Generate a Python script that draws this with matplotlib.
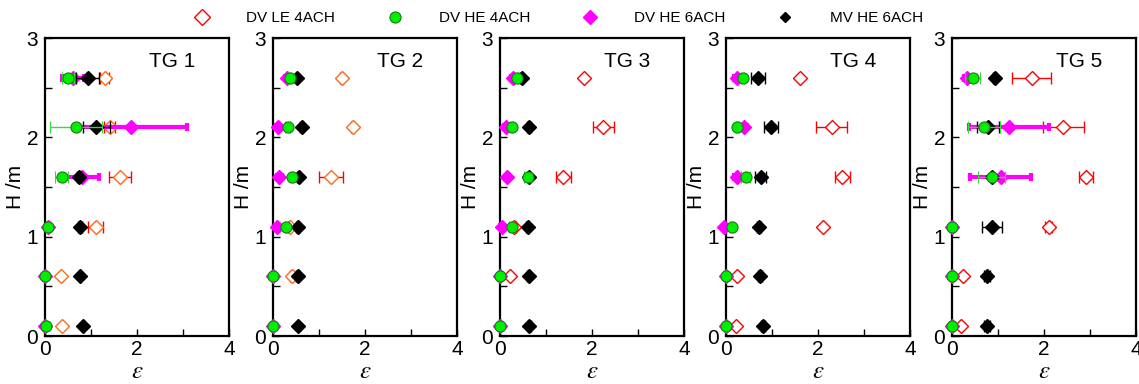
import numpy as np
import matplotlib.pyplot as plt
from matplotlib.lines import Line2D

plt.rcParams['font.family'] = ['Liberation Sans', 'DejaVu Sans']
plt.rcParams['mathtext.fontset'] = 'stix'

# heights (m), bottom to top
heights = [0.1, 0.6, 1.1, 1.6, 2.1, 2.6]
panels = ['TG 1', 'TG 2', 'TG 3', 'TG 4', 'TG 5']
nan = np.nan

# DV LE 4ACH
le4 = [[0.36, 0.34, 1.10, 1.63, 1.41, 1.30],
       [nan, 0.41, 0.36, 1.26, 1.73, 1.49],
       [nan, 0.22, 0.30, 1.38, 2.25, 1.82],
       [0.21, 0.23, 2.10, 2.53, 2.30, 1.62],
       [0.20, 0.23, 2.10, 2.92, 2.42, 1.73]]
le4_err = [[0, 0, 0.17, 0.23, 0.12, 0.10],
           [0, 0.03, 0.03, 0.27, 0.03, 0.03],
           [0, 0, 0.05, 0.17, 0.22, 0],
           [0, 0, 0, 0.16, 0.34, 0],
           [0, 0, 0.08, 0.15, 0.45, 0.42]]

# DV HE 4ACH
he4 = [[0.02, 0.00, 0.07, 0.36, 0.67, 0.51],
       [0.01, 0.01, 0.29, 0.41, 0.32, 0.36],
       [-0.01, 0.01, 0.25, 0.60, 0.25, 0.36],
       [-0.01, -0.01, 0.12, 0.43, 0.25, 0.36],
       [0.00, 0.00, 0.01, 0.86, 0.69, 0.45]]
he4_err = [[0, 0, 0.03, 0.15, 0.56, 0.13],
           [0, 0, 0.03, 0.03, 0.05, 0.03],
           [0, 0, 0.05, 0.08, 0.03, 0.03],
           [0, 0, 0.03, 0.10, 0.03, 0.03],
           [0, 0, 0, 0.30, 0.35, 0.16]]

# DV HE 6ACH
he6 = [[0.00, 0.00, 0.07, 0.80, 1.88, 0.60],
       [0.00, 0.00, 0.09, 0.14, 0.11, 0.30],
       [0.00, -0.01, 0.05, 0.16, 0.13, 0.28],
       [0.00, 0.00, -0.04, 0.23, 0.39, 0.23],
       [0.00, 0.00, 0.00, 1.06, 1.23, 0.33]]
he6_err = [[0, 0, 0.05, 0.37, 1.20, 0.24],
           [0, 0, 0.05, 0.05, 0.05, 0.05],
           [0, 0, 0.04, 0.04, 0.04, 0.05],
           [0, 0, 0.03, 0.06, 0.06, 0.06],
           [0, 0, 0, 0.66, 0.87, 0.06]]

# MV HE 6ACH
mv6 = [[0.83, 0.76, 0.76, 0.74, 1.12, 0.93],
       [0.54, 0.54, 0.54, 0.56, 0.62, 0.52],
       [0.64, 0.62, 0.60, 0.63, 0.63, 0.47],
       [0.80, 0.74, 0.72, 0.76, 0.98, 0.70],
       [0.76, 0.76, 0.87, 0.86, 0.78, 0.93]]
mv6_err = [[0.02, 0.03, 0.04, 0.04, 0.30, 0.25],
           [0, 0.03, 0.03, 0.03, 0.03, 0.03],
           [0.03, 0.03, 0.03, 0.03, 0.04, 0.04],
           [0.04, 0.04, 0.04, 0.12, 0.15, 0.15],
           [0.06, 0.06, 0.22, 0, 0.24, 0.03]]

fig = plt.figure(figsize=(11.39, 3.84), dpi=100)
lefts = [0.0395, 0.2397, 0.439, 0.6374, 0.8358]

for i, name in enumerate(panels):
    ax = fig.add_axes([lefts[i], 0.125, 0.1615, 0.776])
    le_col = '#ff6a1a' if i < 2 else 'red'
    # red open diamonds
    ax.errorbar(le4[i], heights, xerr=le4_err[i], fmt='D', ms=7, mfc='white',
                mec=le_col, mew=1, ecolor='red', elinewidth=1, capsize=4,
                clip_on=False, zorder=2)
    # magenta diamonds
    ax.errorbar(he6[i], heights, xerr=he6_err[i], fmt='D', ms=7, mfc='magenta',
                mec='magenta', ecolor='magenta', elinewidth=3, capsize=3,
                capthick=3, clip_on=False, zorder=3)
    # black diamonds
    ax.errorbar(mv6[i], heights, xerr=mv6_err[i], fmt='D', ms=7, mfc='black',
                mec='black', ecolor='black', elinewidth=1, capsize=4,
                clip_on=False, zorder=4)
    # green circles
    ax.errorbar(he4[i], heights, xerr=he4_err[i], fmt='o', ms=8, mfc='#00ee00',
                mec='#1a7a1a', mew=0.8, ecolor='#33dd33', elinewidth=1,
                capsize=4, clip_on=False, zorder=5)

    ax.set_xlim(0, 4)
    ax.set_ylim(0, 3)
    ax.set_xticks([0, 2, 4])
    ax.set_xticks([1, 3], minor=True)
    ax.set_yticks([0, 1, 2, 3])
    ax.set_yticks([0.5, 1.5, 2.5], minor=True)
    ax.tick_params(direction='in', length=5, width=1, labelsize=15)
    ax.tick_params(axis='y', pad=5)
    ax.tick_params(axis='x', pad=3)
    ax.tick_params(which='minor', direction='in', length=5, width=1)
    for sp in ax.spines.values():
        sp.set_linewidth(1.6)
    ax.set_xlabel(r'$\varepsilon$', fontsize=18, labelpad=0)
    ax.set_ylabel('H /m', fontsize=15, labelpad=1)
    ax.text(0.69, 0.92, name, transform=ax.transAxes, ha='center', va='center',
            fontsize=15)

handles = [
    Line2D([], [], ls='none', marker='D', ms=8, mfc='white', mec='red', mew=1),
    Line2D([], [], ls='none', marker='o', ms=8, mfc='#00ee00', mec='#1a7a1a', mew=0.8),
    Line2D([], [], ls='none', marker='D', ms=7, mfc='magenta', mec='magenta'),
    Line2D([], [], ls='none', marker='D', ms=5.5, mfc='black', mec='black'),
]
labels = ['DV LE 4ACH', 'DV HE 4ACH', 'DV HE 6ACH', 'MV HE 6ACH']
fig.legend(handles, labels, loc='center', bbox_to_anchor=(0.487, 0.953), ncol=4,
           frameon=False, fontsize=11, handletextpad=1.9, columnspacing=2.9)

fig.savefig('out.png', dpi=100)
